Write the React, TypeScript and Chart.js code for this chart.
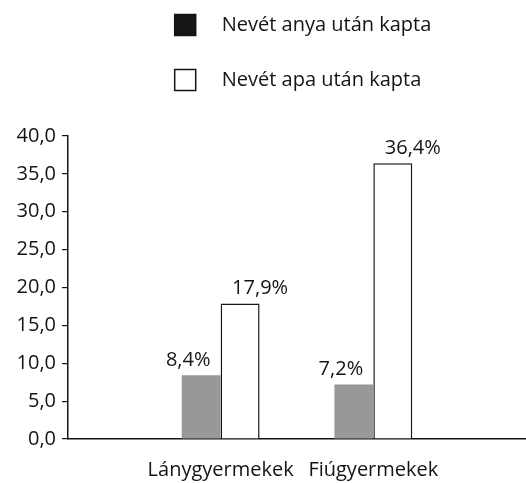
import React, { useEffect, useRef } from "react";
import { Chart, registerables } from "chart.js";

Chart.register(...registerables);

const categories = ["", "Lánygyermekek", "Fiúgyermekek", ""];
const seriesNames = ["Nevét anya után kapta", "Nevét apa után kapta"];
const motherValues: (number | null)[] = [null, 8.4, 7.2, null];
const fatherValues: (number | null)[] = [null, 17.9, 36.4, null];
const yTicks = [0, 5, 10, 15, 20, 25, 30, 35, 40];

const FONT = '"Open Sans", "Noto Sans", sans-serif';
const INK = "#141414";
const barFills = ["#989898", "#ffffff"];
const swatchFills = ["#161616", "#ffffff"];
const labelShift = [-13, 20];

const fmt = (v: number) => v.toFixed(1).replace(".", ",");

const legendPlugin = {
  id: "stackedLegend",
  afterDraw(chart: any) {
    const { ctx, chartArea } = chart;
    ctx.save();
    ctx.font = `20px ${FONT}`;
    const widths = seriesNames.map((s) => ctx.measureText(s).width);
    const box = 21;
    const gap = 26;
    const total = box + gap + Math.max(...widths);
    const left = (chartArea.left + chartArea.right) / 2 - total / 2 + 6;
    seriesNames.forEach((name, i) => {
      const cy = 25 + i * 55;
      ctx.fillStyle = swatchFills[i];
      ctx.fillRect(left, cy - box / 2, box, box);
      ctx.lineWidth = 1.5;
      ctx.strokeStyle = INK;
      ctx.strokeRect(left, cy - box / 2, box, box);
      ctx.fillStyle = INK;
      ctx.textAlign = "left";
      ctx.textBaseline = "middle";
      ctx.fillText(name, left + box + gap, cy);
    });
    ctx.restore();
  },
};

const valueLabelPlugin = {
  id: "valueLabels",
  afterDatasetsDraw(chart: any) {
    const { ctx } = chart;
    ctx.save();
    ctx.font = `20px ${FONT}`;
    ctx.fillStyle = INK;
    ctx.textAlign = "center";
    ctx.textBaseline = "alphabetic";
    chart.data.datasets.forEach((ds: any, di: number) => {
      const meta = chart.getDatasetMeta(di);
      meta.data.forEach((el: any, i: number) => {
        const v = ds.data[i];
        if (v === null || v === undefined) return;
        ctx.fillText(`${fmt(v)}%`, el.x + labelShift[di], el.y - 9);
      });
    });
    ctx.restore();
  },
};

export default function App() {
  const ref = useRef<HTMLCanvasElement>(null);

  useEffect(() => {
    document.body.style.margin = "0";
    const chart = new Chart(ref.current!, {
      type: "bar",
      data: {
        labels: categories,
        datasets: [
          {
            label: seriesNames[0],
            data: motherValues,
            backgroundColor: barFills[0],
            borderWidth: 0,
          },
          {
            label: seriesNames[1],
            data: fatherValues,
            backgroundColor: barFills[1],
            borderColor: INK,
            borderWidth: 1.5,
          },
        ],
      },
      options: {
        responsive: false,
        animation: false,
        devicePixelRatio: 1,
        layout: { padding: { top: 136, right: 0, bottom: 0, left: 0 } },
        datasets: {
          bar: { categoryPercentage: 0.51, barPercentage: 1 },
        },
        plugins: {
          legend: { display: false },
          tooltip: { enabled: false },
        },
        scales: {
          x: {
            offset: false,
            grid: { display: false },
            border: { display: true, color: INK, width: 1.5 },
            ticks: {
              autoSkip: false,
              maxRotation: 0,
              padding: 11,
              color: INK,
              font: { family: FONT, size: 20 },
            },
            afterFit: (s: any) => {
              s.height = 44;
              s.paddingLeft = 0;
              s.paddingRight = 0;
            },
          },
          y: {
            min: 0,
            max: 40,
            afterBuildTicks: (s: any) => {
              s.ticks = yTicks.map((v) => ({ value: v }));
            },
            grid: {
              drawOnChartArea: false,
              drawTicks: true,
              tickLength: 6,
              color: INK,
              lineWidth: 1.2,
            },
            border: { display: true, color: INK, width: 1.5 },
            ticks: {
              padding: 6,
              color: INK,
              font: { family: FONT, size: 20 },
              callback: (v: any) => fmt(Number(v)),
            },
            afterFit: (s: any) => {
              s.width = 68;
            },
          },
        },
      },
      plugins: [legendPlugin, valueLabelPlugin],
    });
    return () => chart.destroy();
  }, []);

  return <canvas ref={ref} width={526} height={483} style={{ display: "block" }} />;
}
